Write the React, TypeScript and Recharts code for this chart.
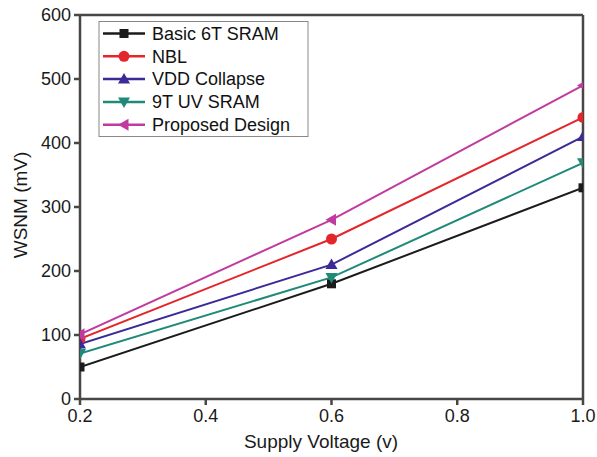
import React from 'react';
import { LineChart, Line, XAxis, YAxis, ReferenceLine } from 'recharts';

const voltages = [0.2, 0.6, 1.0];
const basic6T = [50, 180, 330];
const nbl = [94, 250, 440];
const vddCollapse = [86, 210, 410];
const uv9T = [71, 190, 369];
const proposed = [101, 280, 490];
const xTicks = [0.2, 0.4, 0.6, 0.8, 1.0];
const yTicks = [0, 100, 200, 300, 400, 500, 600];

const data = voltages.map((v, i) => ({
  v,
  basic: basic6T[i],
  nbl: nbl[i],
  vdd: vddCollapse[i],
  uv: uv9T[i],
  prop: proposed[i],
}));

type Shape = 'square' | 'circle' | 'up' | 'down' | 'left';

const series: { key: string; name: string; color: string; shape: Shape }[] = [
  { key: 'basic', name: 'Basic 6T SRAM', color: '#1b1b1b', shape: 'square' },
  { key: 'nbl', name: 'NBL', color: '#e4262b', shape: 'circle' },
  { key: 'vdd', name: 'VDD Collapse', color: '#3b2a98', shape: 'up' },
  { key: 'uv', name: '9T UV SRAM', color: '#1f8a78', shape: 'down' },
  { key: 'prop', name: 'Proposed Design', color: '#c03a9f', shape: 'left' },
];

const marker = (shape: Shape, cx: number, cy: number, color: string, k?: string) => {
  switch (shape) {
    case 'square':
      return <rect key={k} x={cx - 4.5} y={cy - 4.5} width={9} height={9} fill={color} />;
    case 'circle':
      return <circle key={k} cx={cx} cy={cy} r={5.5} fill={color} />;
    case 'up':
      return <path key={k} d={`M${cx},${cy - 6} L${cx + 6},${cy + 4.5} L${cx - 6},${cy + 4.5} Z`} fill={color} />;
    case 'down':
      return <path key={k} d={`M${cx},${cy + 6} L${cx + 6},${cy - 4.5} L${cx - 6},${cy - 4.5} Z`} fill={color} />;
    case 'left':
      return <path key={k} d={`M${cx - 6},${cy} L${cx + 4.5},${cy - 6} L${cx + 4.5},${cy + 6} Z`} fill={color} />;
  }
};

const FONT = 'Arial, "Liberation Sans", sans-serif';
const AXIS = '#4a4644';

const LegendBox = () => (
  <g>
    <rect x={99} y={21.5} width={209} height={115} fill="#fff" stroke="#888" strokeWidth={1} />
    {series.map((s, i) => {
      const cy = 33.5 + i * 22.8;
      return (
        <g key={s.key}>
          <line x1={103} y1={cy} x2={145} y2={cy} stroke={s.color} strokeWidth={2.5} />
          {marker(s.shape, 124, cy, s.color)}
          <text x={152} y={cy + 6.3} fontSize={18} fontFamily={FONT} fill="#111">
            {s.name}
          </text>
        </g>
      );
    })}
  </g>
);

export default function App() {
  return (
    <div style={{ position: 'absolute', left: 0, top: 0, width: 597, height: 457, background: '#fff' }}>
      <LineChart width={597} height={457} data={data} margin={{ top: 15, right: 14, left: 0, bottom: 28 }}>
        <XAxis
          dataKey="v"
          type="number"
          domain={[0.2, 1.0]}
          ticks={xTicks}
          tickFormatter={(t: number) => t.toFixed(1)}
          stroke={AXIS}
          strokeWidth={2.5}
          tickSize={6}
          tickMargin={4}
          height={30}
          tick={{ fill: '#1a1a1a', fontSize: 18, fontFamily: FONT }}
          allowDataOverflow
        />
        <YAxis
          type="number"
          domain={[0, 600]}
          ticks={yTicks}
          stroke={AXIS}
          strokeWidth={2.5}
          tickSize={6}
          tickMargin={3}
          width={80}
          tick={{ fill: '#1a1a1a', fontSize: 18, fontFamily: FONT }}
        />
        <ReferenceLine y={600} stroke={AXIS} strokeWidth={2.5} />
        <ReferenceLine x={1.0} stroke={AXIS} strokeWidth={2.5} />
        {series.map((s) => (
          <Line
            key={s.key}
            dataKey={s.key}
            name={s.name}
            stroke={s.color}
            strokeWidth={2}
            isAnimationActive={false}
            dot={(p: any) => marker(s.shape, p.cx, p.cy, s.color, `${s.key}-${p.index}`)}
          />
        ))}
        <LegendBox />
        <text x={321} y={448} textAnchor="middle" fontSize={19} fontFamily={FONT} fill="#1a1a1a">
          Supply Voltage (v)
        </text>
        <text
          x={27}
          y={205}
          textAnchor="middle"
          fontSize={19}
          fontFamily={FONT}
          fill="#1a1a1a"
          transform="rotate(-90 27 205)"
        >
          WSNM (mV)
        </text>
      </LineChart>
    </div>
  );
}
